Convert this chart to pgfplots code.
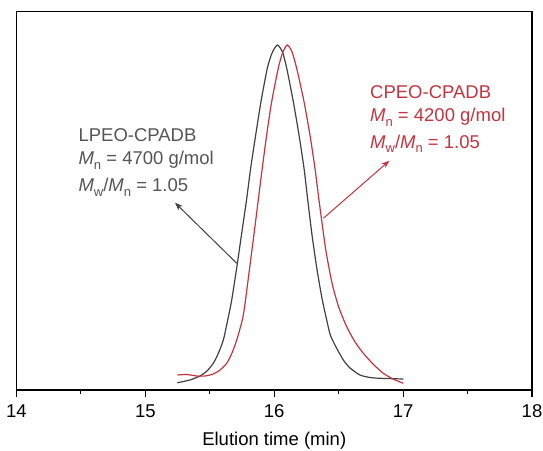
\documentclass[border=0pt]{standalone}
\usepackage{fontspec}
\setmainfont{Liberation Sans}
\usepackage{pgfplots}
\pgfplotsset{compat=1.18}
\usetikzlibrary{arrows.meta}
\definecolor{cgray}{RGB}{64,64,64}
\definecolor{tgray}{RGB}{85,85,85}
\definecolor{cred}{RGB}{196,52,62}
\newcommand{\Msub}[1]{\textit{M}\raisebox{-0.45ex}{\fontsize{13}{13}\selectfont #1}}
\begin{document}
\begin{tikzpicture}
\useasboundingbox (-16.5pt,-60pt) rectangle (526.5pt,390pt);
\begin{axis}[
  scale only axis, width=515.5pt, height=378.5pt,
  xmin=14, xmax=18, ymin=0, ymax=378.5,
  xtick={14,15,16,17,18}, minor x tick num=1,
  ytick=\empty, xtick pos=bottom,
  tick align=outside,
  major tick length=7pt, minor tick length=3.5pt,
  axis line style={line width=1.3pt},
  every tick/.style={line width=1.1pt, black},
  /pgf/number format/assume math mode=true,
  ticklabel style={font=\fontsize{18.5}{20}\selectfont},
  xticklabel style={yshift=-4pt},
  xlabel={Elution time (min)},
  xlabel style={font=\fontsize{18.5}{20}\selectfont, yshift=-8pt},
  clip=false,
]
\addplot[cgray, line width=1.2pt, smooth, tension=0.4] coordinates {
(15.248,7.3) (15.346,10) (15.424,14) (15.478,19) (15.527,26.7) (15.564,36) (15.605,50) (15.639,70) (15.670,90) (15.714,126.7) (15.740,150) (15.768,175) (15.785,190) (15.817,221.7) (15.856,255) (15.897,288.3) (15.946,321.7) (15.983,337) (16.024,345) (16.064,338) (16.097,321.7) (16.148,288.3) (16.192,255) (16.231,221.7) (16.260,190) (16.293,155) (16.330,122) (16.370,92) (16.407,70) (16.435,55) (16.479,43) (16.536,30) (16.588,22) (16.665,15) (16.743,12.5) (16.821,11.7) (17.001,11)
};
\addplot[cred, line width=1.2pt, smooth, tension=0.4] coordinates {
(15.248,15) (15.323,15.5) (15.398,14) (15.463,14) (15.527,16) (15.579,20) (15.631,26.7) (15.672,37) (15.709,50) (15.752,70) (15.770,83.3) (15.797,110) (15.837,150) (15.876,190) (15.907,221.7) (15.941,255) (15.980,288.3) (16.031,321.7) (16.064,337) (16.101,345) (16.138,338) (16.174,321.7) (16.231,288.3) (16.277,255) (16.316,221.7) (16.347,190) (16.400,140) (16.450,106) (16.500,83) (16.562,63.3) (16.627,48) (16.691,36.7) (16.766,26) (16.846,16.7) (16.922,11) (17.001,6.7)
};
\draw[cgray, line width=1pt, -{Stealth[length=8pt,width=6pt]}] (axis cs:15.709,126.7) -- (axis cs:15.230,187.3);
\draw[cred, line width=1pt, -{Stealth[length=8pt,width=6pt]}] (axis cs:16.381,171.7) -- (axis cs:16.893,229.3);
\begin{scope}[every node/.style={anchor=base west, inner sep=0pt, font=\fontsize{18.5}{20}\selectfont}]
\node[text=tgray] at (axis cs:14.48,248.3) {LPEO-CPADB};
\node[text=tgray] at (axis cs:14.48,225) {\Msub{n} = 4700 g/mol};
\node[text=tgray] at (axis cs:14.48,198.3) {\Msub{w}/\Msub{n} = 1.05};
\node[text=cred] at (axis cs:16.743,291.7) {CPEO-CPADB};
\node[text=cred] at (axis cs:16.743,268.3) {\Msub{n} = 4200 g/mol};
\node[text=cred] at (axis cs:16.743,241.7) {\Msub{w}/\Msub{n} = 1.05};
\end{scope}
\end{axis}
\end{tikzpicture}
\end{document}
